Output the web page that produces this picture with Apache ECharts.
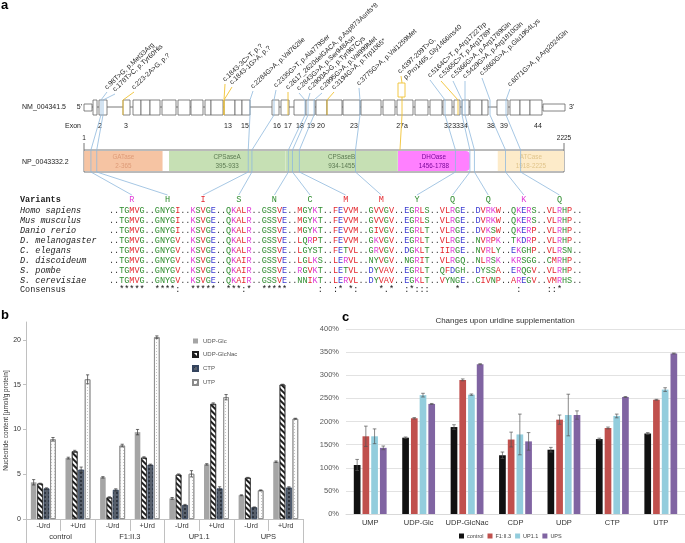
<!DOCTYPE html>
<html><head><meta charset="utf-8">
<script src="https://cdn.jsdelivr.net/npm/echarts@6/dist/echarts.min.js"></script>
<style>html,body{margin:0;padding:0;background:#fff}#main{width:685px;height:543px}</style>
</head><body><div id="main"></div>
<script>
const FONT = '"Liberation Sans", Arial, Helvetica, sans-serif';
const MONO = '"Liberation Mono", "DejaVu Sans Mono", monospace';

// ================= Panel a data =================
const geneUTR = [[84, 92], [543, 565]];
const geneExons = [[93,97],[99,107],[123,130],[133,141],[141,150],[150,160],[162,176],[178,190],[191,203],[205,211],[211,223],[224,235],[235,242],[242,250],[272,279],[281,289],[294,306],[306,315],[316,327],[327,342],[343,360],[361,381],[383,395],[397,413],[415,428],[430,442],[443,452],[454,460],[462,469],[470,482],[482,488],[497,508],[510,520],[520,530],[530,542]];
const altExon = [[398, 405]];
const exonNames = ["2","3","13","15","16","17","18","19","20","23","27a","32","3334","38","39","44"];
const exonNamePos = [100,126,228,245,277,288,300,311,321,354,402,448,460,491,504,538];

const proteinLength = 2225;
const domainNames = ["GATase","CPSaseA","CPSaseB","DHOase","ATCase"];
const domainStart = [2, 395, 934, 1456, 1918];
const domainEnd = [365, 933, 1455, 1788, 2225];

const mutText = ["c.98T>G, p.Met33Arg","c.178T>C, p.Tyr60His","c.223-2A>G, p.?","c.1843-3C>T, p.?","c.1843-1G>A, p.?","c.2284G>A, p.Val762Ile","c.2335G>T, p.Ala779Ser","c.2617_2620delGACA, p.Asp873Asnfs*8","c.2843G>A, p.Ser948Asn","c.2900A>G, p.Tyr967Cys","c.2995G>A, p.Val999Met","c.3194G>A, p.Trp1065*","c.3775G>A, p.Val1259Met","c.4397-209T>G,","c.5164C>T, p.Arg1722Trp","c.5365C>T, p.Arg1789*","c.5366G>A, p.Arg1789Gln","c.5429G>A, p.Arg1810Gln","c.5860G>A, p.Glu1954Lys","c.6071G>A, p.Arg2024Gln"];
const mutText2 = ["","","","","","","","","","","","","","p.Pro1465_Gly1466ins40","","","","","",""];
const mutKind = ["b","b","y","y","y","b","b","y","b","b","b","y","b","a","b","y","b","b","b","b"];
const mutExonPos = [101,103,123,224,224,250,274,288,305,308,314,327,360,402,445,458,462,465,490,506];
const mutAA = [33,60,0,0,0,762,779,0,948,967,999,0,1259,1465,1722,0,1789,1810,1954,2024];
const mutBlock = [0,1,-1,-1,-1,2,3,-1,4,5,6,-1,7,-1,8,-1,9,10,11,12];

const species = ["Homo sapiens","Mus musculus","Danio rerio","D. melanogaster","C. elegans","D. discoideum","S. pombe","S. cerevisiae"];
const alnHomo = ["TGMVG","GNYGI","KSVGE","QKALR","GSSVE","MGYKT","FEVVM","GVVGV","EGRLS","VLRGE","DVRKW","QKERS","VLRHP"];
const alnMus  = ["TGMVG","GNYGI","KSVGE","QKALR","GSSVE","MGYKT","FEVVM","GVVGV","EGRLS","VLRGE","DVRKW","QKERS","VLRHP"];
const alnDanio= ["TGMVG","GNYGI","KSVGE","QKALR","GSSVE","MGYKT","FEVVM","GIVGV","EGRLT","VLRGE","DVKSW","QKERP","VLRHP"];
const alnDmel = ["TGMVG","GNYGV","KSVGE","QKALR","GSSVE","LQRPT","FEVVM","GKVGV","EGRLT","VLRGE","NVRPK","TKDRP","VLRHP"];
const alnCele = ["TGMVG","GNYGV","KSVGE","QKALR","GSSVE","LGYST","FETVL","GRVGV","DGKLT","IIRGE","NVRLY","EKGHP","VLRSN"];
const alnDdis = ["TGMVG","GNYGV","KSVGE","QKAIR","GSSVE","LGLKS","LERVL","NYVGV","NGRIT","VLRGQ","NLRSK","KRSGG","CMRHP"];
const alnSpom = ["TGMVG","GNYGV","KSVGE","QKAIR","GSSVE","RGVKT","LETVL","DYVAV","EGRLT","QFDGH","DYSSA","ERQGV","VLRHP"];
const alnScer = ["TGMVG","GNYGV","KSVGE","QKAIR","GSSVE","NNIKT","LERVL","DYVAV","EGKLT","VYNGE","CIVNP","AREGV","VMRHS"];
const alignment = [alnHomo, alnMus, alnDanio, alnDmel, alnCele, alnDdis, alnSpom, alnScer];
const variantResidues = ["R","H","I","S","N","C","M","M","Y","Q","Q","K","Q"];
const consensusBlocks = ["*****","****:","*****","***:*","*****","    :",":* *:","  *.*",":*:::","   * ","     "," :   ","::*  "];

// ================= Panel b data =================
const bGroups = ["control","F1:II.3","UP1.1","UPS"];
const bConds = ["-Urd","+Urd","-Urd","+Urd","-Urd","+Urd","-Urd","+Urd"];
const bSeriesNames = ["UDP-Glc","UDP-GlcNac","CTP","UTP"];
const udpGlc    = [4.1, 6.8, 4.65, 9.7, 2.3, 6.1, 2.65, 6.4];
const udpGlcNac = [3.95, 7.55, 2.4, 6.85, 4.95, 12.85, 4.6, 15.0];
const ctp       = [3.4, 5.5, 3.25, 6.05, 1.55, 3.4, 1.3, 3.5];
const utp       = [8.9, 15.6, 8.2, 20.3, 5.05, 13.6, 3.2, 11.2];
const udpGlcErr    = [0.3, 0.1, 0.08, 0.3, 0.1, 0.08, 0.05, 0.08];
const udpGlcNacErr = [0.05, 0.12, 0.08, 0.1, 0.08, 0.12, 0.05, 0.05];
const ctpErr       = [0.08, 0.3, 0.12, 0.08, 0.08, 0.2, 0.05, 0.1];
const utpErr       = [0.2, 0.5, 0.15, 0.15, 0.35, 0.3, 0.05, 0.05];

// ================= Panel c data =================
const cCats = ["UMP","UDP-Glc","UDP-GlcNac","CDP","UDP","CTP","UTP"];
const cSeriesNames = ["control","F1:II.3","UP1.1","UPS"];
const cControl = [106, 165, 188, 127, 139, 162, 174];
const cF1      = [168, 207, 290, 161, 204, 186, 247];
const cUP11    = [168, 257, 258, 172, 214, 212, 269];
const cUPS     = [143, 238, 324, 157, 214, 253, 347];
const cControlErr = [12, 1.5, 5, 7, 5, 2, 2];
const cF1Err      = [22, 1.5, 2, 16, 10, 2, 1];
const cUP11Err    = [16, 4, 1.5, 44, 45, 4, 4];
const cUPSErr     = [4, 1, 1, 19, 9, 1, 1];
const cTicks = [0,50,100,150,200,250,300,350,400];

// ================= layout / style =================
const LABEL_X = [108,116,135,226,233,254,277,289,300,311,323,335,360,401,431,442,454,466,483,511];
const LABEL_Y = [91,93,91,83,86,90,89,91,92,92,92,91,87,75,79,80,80,80,77,88];
const PROT_LEFT = 84, PROT_W = 480, PROT_TOP = 150, PROT_H = 22;
const SEQ_X0 = 109, CHAR_W = 5.09;
const ROW_Y0 = 211, ROW_DY = 9.9;
const BLUE = '#8fb9dd', YELLOW = '#f1c232';
const domainFill = ['#f6c4a3','#c6e0b4','#c6e0b4','#ff80ff','#fdebc9'];
const domainText = ['#de9b78','#5c7a52','#5c7a52','#7a089a','#e0c48a'];

function protX(aa){ return PROT_LEFT + (aa - 1) / (proteinLength - 1) * PROT_W; }
function colX(idx){ return SEQ_X0 + (idx + 0.5) * CHAR_W; }
function resColor(c){
  if ('AVFPMILW'.indexOf(c) >= 0) return '#e3262d';
  if ('DE'.indexOf(c) >= 0) return '#3a3ad0';
  if ('RK'.indexOf(c) >= 0) return '#e03cd6';
  if ('STYHCNGQ'.indexOf(c) >= 0) return '#2e8c2e';
  return '#333';
}
function seqString(blocks){ return '..' + blocks.join('..') + '..'; }

const chart = echarts.init(document.getElementById('main'));

function txt(x, y, text, o){
  o = o || {};
  return {type:'text', x:x, y:y, rotation:o.rot||0, style:{text:text, x:0, y:0,
    fill:o.color||'#222', fontSize:o.size||7, fontFamily:o.family||FONT,
    fontStyle:o.style||'normal', fontWeight:o.weight||'normal',
    align:o.align||'left', verticalAlign:o.valign||'middle'}};
}

const pageAxis = {xAxisIndex:0, yAxisIndex:0};
const series = [];

series.push(Object.assign({type:'custom', z:2, data:[[geneUTR[0][0], geneUTR[1][1]]],
  renderItem:function(p, api){
    const a = api.coord([api.value(0), 107]), b = api.coord([api.value(1), 107]);
    const ch = [{type:'line', shape:{x1:a[0],y1:a[1],x2:b[0],y2:b[1]}, style:{stroke:'#555', lineWidth:0.8}}];
    const n = api.coord([22,107]); ch.push(txt(n[0], n[1], 'NM_004341.5', {size:7}));
    const f = api.coord([82,107]); ch.push(txt(f[0], f[1], "5'", {size:7, align:'right'}));
    const t = api.coord([569,107]); ch.push(txt(t[0], t[1], "3'", {size:7}));
    const e = api.coord([65,126]); ch.push(txt(e[0], e[1], 'Exon', {size:7}));
    exonNames.forEach(function(nm, i){ const q = api.coord([exonNamePos[i],126]); ch.push(txt(q[0], q[1], nm, {size:7, align:'center'})); });
    const np = api.coord([22,162]); ch.push(txt(np[0], np[1], 'NP_0043332.2', {size:7}));
    return {type:'group', children:ch};
  }}, pageAxis));

series.push(Object.assign({type:'custom', z:3, data:geneUTR, renderItem:function(p, api){
  const a = api.coord([api.value(0),104]), b = api.coord([api.value(1),111]);
  return {type:'rect', shape:{x:a[0],y:a[1],width:b[0]-a[0],height:b[1]-a[1]}, style:{fill:'#fff', stroke:'#666', lineWidth:0.8}};
}}, pageAxis));
series.push(Object.assign({type:'custom', z:3, data:geneExons, renderItem:function(p, api){
  const a = api.coord([api.value(0),100]), b = api.coord([api.value(1),115]);
  return {type:'rect', shape:{x:a[0],y:a[1],width:b[0]-a[0],height:b[1]-a[1]}, style:{fill:'#fff', stroke:'#666', lineWidth:0.8}};
}}, pageAxis));
series.push(Object.assign({type:'custom', z:3, data:altExon, renderItem:function(p, api){
  const a = api.coord([api.value(0),83]), b = api.coord([api.value(1),97]);
  return {type:'rect', shape:{x:a[0],y:a[1],width:b[0]-a[0],height:b[1]-a[1]}, style:{fill:'#fff', stroke:YELLOW, lineWidth:0.9}};
}}, pageAxis));

series.push({type:'custom', xAxisIndex:1, yAxisIndex:1, z:2, data:[[1, proteinLength]], renderItem:function(p, api){
  const a = api.coord([api.value(0),1]), b = api.coord([api.value(1),0]);
  return {type:'group', children:[
    {type:'rect', shape:{x:a[0],y:a[1],width:b[0]-a[0],height:b[1]-a[1]}, style:{fill:'#fff', stroke:'#777', lineWidth:1}},
    {type:'line', shape:{x1:a[0],y1:a[1]-7,x2:a[0],y2:a[1]}, style:{stroke:'#777', lineWidth:1}},
    {type:'line', shape:{x1:b[0],y1:a[1]-7,x2:b[0],y2:a[1]}, style:{stroke:'#777', lineWidth:1}},
    txt(a[0], a[1]-8, String(api.value(0)), {size:6.5, align:'center', valign:'bottom'}),
    txt(b[0], a[1]-8, String(api.value(1)), {size:6.5, align:'center', valign:'bottom'})
  ]};
}});
series.push({type:'custom', xAxisIndex:1, yAxisIndex:1, z:3,
  data:domainStart.map(function(s,i){ return [s, domainEnd[i]]; }),
  renderItem:function(p, api){
    const i = p.dataIndex;
    const a = api.coord([api.value(0),0.96]), b = api.coord([api.value(1),0.04]);
    const r = i === 3 ? [0,4,4,0] : 0;
    const cx = (a[0]+b[0])/2;
    return {type:'group', children:[
      {type:'rect', shape:{x:a[0],y:a[1],width:b[0]-a[0],height:b[1]-a[1], r:r}, style:{fill:domainFill[i]}},
      txt(cx, a[1]+6, domainNames[i], {size:6.3, align:'center', color:domainText[i]}),
      txt(cx, a[1]+15, domainStart[i] + '-' + domainEnd[i], {size:6.3, align:'center', color:domainText[i]})
    ]};
  }});

series.push(Object.assign({type:'custom', z:6, data:mutText.map(function(t,i){ return [i]; }),
  renderItem:function(p, api){
    const i = p.dataIndex, k = mutKind[i], ex = mutExonPos[i];
    const C = function(x,y){ return api.coord([x,y]); };
    const ch = [];
    if (k === 'a') {
      ch.push({type:'polyline', shape:{points:[C(LABEL_X[i], LABEL_Y[i]+1), C(ex, 83)]}, style:{stroke:YELLOW, lineWidth:0.9, fill:null}});
      ch.push({type:'polyline', shape:{points:[C(ex,97), C(ex,115), C(protX(mutAA[i]), PROT_TOP)]}, style:{stroke:YELLOW, lineWidth:0.9, fill:null}});
    } else if (k === 'y') {
      ch.push({type:'polyline', shape:{points:[C(LABEL_X[i]-1, LABEL_Y[i]+1), C(ex,100), C(ex,115)]}, style:{stroke:YELLOW, lineWidth:0.9, fill:null}});
    } else {
      const px = protX(mutAA[i]);
      const vx = colX(4 + 7*mutBlock[i]);
      ch.push({type:'polyline', shape:{points:[C(LABEL_X[i]-1, LABEL_Y[i]+1), C(ex,100), C(ex,115), C(px,PROT_TOP), C(px,PROT_TOP+PROT_H), C(vx,195)]}, style:{stroke:BLUE, lineWidth:0.8, fill:null}});
    }
    return {type:'group', children:ch};
  }}, pageAxis));

series.push(Object.assign({type:'custom', z:7, data:mutText.map(function(t,i){ return [i]; }),
  renderItem:function(p, api){
    const i = p.dataIndex;
    const rot = 43 * Math.PI / 180;
    const a = api.coord([LABEL_X[i], LABEL_Y[i]]);
    const ch = [txt(a[0], a[1], mutText[i], {size:6.8, rot:rot, valign:'bottom', color:'#222'})];
    if (mutText2[i]) ch.push(txt(a[0]+6, a[1]+6, mutText2[i], {size:6.8, rot:rot, valign:'bottom', color:'#222'}));
    return {type:'group', children:ch};
  }}, pageAxis));

series.push(Object.assign({type:'custom', z:4, data:[0,1,2,3,4,5,6,7,8,9].map(function(r){ return [r]; }),
  renderItem:function(p, api){
    const r = p.dataIndex;
    const ch = [];
    let y, name, str, colorFn, nameOpt = {size:8.5, family:MONO, color:'#222'};
    if (r === 0) {
      y = 200; nameOpt.weight = 'bold';
      const n = api.coord([20, y]); ch.push(txt(n[0], n[1], 'Variants', nameOpt));
      variantResidues.forEach(function(c, k){
        const q = api.coord([colX(4+7*k), y]);
        ch.push(txt(q[0], q[1], c, {size:8.5, family:MONO, align:'center', color:resColor(c)}));
      });
      return {type:'group', children:ch};
    }
    if (r === 9) {
      y = ROW_Y0 + 8*ROW_DY; name = 'Consensus'; str = '  ' + consensusBlocks.join('  ') + '  ';
      colorFn = function(){ return '#111'; };
    } else {
      y = ROW_Y0 + (r-1)*ROW_DY; name = species[r-1]; str = seqString(alignment[r-1]);
      nameOpt.style = 'italic';
      colorFn = resColor;
    }
    const n = api.coord([20, y]); ch.push(txt(n[0], n[1], name, nameOpt));
    for (let i = 0; i < str.length; i++) {
      const c = str[i]; if (c === ' ') continue;
      const q = api.coord([colX(i), y]);
      ch.push(txt(q[0], q[1], c, {size:8.5, family:MONO, align:'center', color:colorFn(c)}));
    }
    return {type:'group', children:ch};
  }}, pageAxis));

// ================= Panel b series =================
const B_BW = 5.6, B_GAP = 0.15, B_PITCH = B_BW * (1 + B_GAP);
const bValues = [udpGlc, udpGlcNac, ctp, utp];
const bErrs = [udpGlcErr, udpGlcNacErr, ctpErr, utpErr];
const bStyles = [
  {color:'#a5a5a5'},
  {color:'#ffffff', borderColor:'#1e1e1e', borderWidth:0.6, decal:{symbol:'rect', symbolSize:1, dashArrayX:[1,0], dashArrayY:[1.4,1.4], rotation:Math.PI/4, color:'#1e1e1e'}},
  {color:'#58606c', borderColor:'#34445e', borderWidth:0.6, decal:{symbol:'rect', symbolSize:1, dashArrayX:[1.2,1.2], dashArrayY:[1.2,1.2], color:'#2f353e'}},
  {color:'#fdfdfd', borderColor:'#8a8a8a', borderWidth:0.8, decal:{symbol:'rect', symbolSize:1, dashArrayX:[0.8,1.6], dashArrayY:[0.8,1.6], color:'#c4c4c4'}}
];
bSeriesNames.forEach(function(nm, s){
  series.push({name:nm, type:'bar', xAxisIndex:2, yAxisIndex:2, data:bValues[s], barWidth:B_BW, barGap:(B_GAP*100)+'%', itemStyle:bStyles[s], z:2});
});
function errorRender(pitch, cap, color, lw){
  return function(p, api){
    const i = api.value(0), v = api.value(1), e = api.value(2), s = api.value(3);
    const off = (s - 1.5) * pitch;
    const hi = api.coord([i, v + e]), lo = api.coord([i, v - e]);
    const x = hi[0] + off;
    const st = {stroke:color, lineWidth:lw};
    return {type:'group', children:[
      {type:'line', shape:{x1:x,y1:hi[1],x2:x,y2:lo[1]}, style:st},
      {type:'line', shape:{x1:x-cap,y1:hi[1],x2:x+cap,y2:hi[1]}, style:st},
      {type:'line', shape:{x1:x-cap,y1:lo[1],x2:x+cap,y2:lo[1]}, style:st}
    ]};
  };
}
const bErrData = [];
bValues.forEach(function(arr, s){ arr.forEach(function(v, i){ bErrData.push([i, v, bErrs[s][i], s]); }); });
series.push({type:'custom', xAxisIndex:2, yAxisIndex:2, z:5, data:bErrData, renderItem:errorRender(B_PITCH, 1.6, '#333', 0.7)});

// ================= Panel c series =================
const C_BW = 6.7, C_GAP = 0.3, C_PITCH = C_BW * (1 + C_GAP);
const cValues = [cControl, cF1, cUP11, cUPS];
const cErrs = [cControlErr, cF1Err, cUP11Err, cUPSErr];
const cColors = ['#111111', '#c0504d', '#93cddd', '#8064a2'];
cSeriesNames.forEach(function(nm, s){
  series.push({name:nm, type:'bar', xAxisIndex:4, yAxisIndex:3, data:cValues[s], barWidth:C_BW, barGap:(C_GAP*100)+'%', itemStyle:{color:cColors[s]}, z:2});
});
const cErrData = [];
cValues.forEach(function(arr, s){ arr.forEach(function(v, i){ cErrData.push([i, v, cErrs[s][i], s]); }); });
series.push({type:'custom', xAxisIndex:4, yAxisIndex:3, z:5, data:cErrData, renderItem:errorRender(C_PITCH, 1.8, '#555', 0.7)});

const option = {
  animation:false,
  backgroundColor:'#fff',
  textStyle:{fontFamily:FONT},
  graphic:[
    {type:'text', left:1, top:-1, style:{text:'a', fontSize:13, fontWeight:'bold', fontFamily:FONT, fill:'#000'}},
    {type:'text', left:1, top:309, style:{text:'b', fontSize:13, fontWeight:'bold', fontFamily:FONT, fill:'#000'}},
    {type:'text', left:342, top:311, style:{text:'c', fontSize:13, fontWeight:'bold', fontFamily:FONT, fill:'#000'}},
    {type:'text', x:505, y:321, style:{text:'Changes upon uridine supplementation', fontSize:8, fontFamily:FONT, fill:'#333', align:'center', verticalAlign:'middle'}}
  ],
  legend:[
    {data:bSeriesNames, orient:'vertical', left:192, top:338, padding:0, itemWidth:5, itemHeight:5, itemGap:7, icon:'rect',
     textStyle:{fontSize:6, color:'#555', fontFamily:FONT}},
    {data:cSeriesNames, orient:'horizontal', left:459, top:533, padding:0, itemWidth:5, itemHeight:5, itemGap:4, icon:'rect',
     textStyle:{fontSize:5.5, color:'#444', fontFamily:FONT, padding:[0,0,0,-2]}}
  ],
  grid:[
    {left:0, top:0, width:685, height:310},
    {left:PROT_LEFT, top:PROT_TOP, width:PROT_W, height:PROT_H},
    {left:26, top:322, width:277, height:197},
    {left:346, top:329, width:340, height:185}
  ],
  xAxis:[
    {gridIndex:0, type:'value', min:0, max:685, show:false},
    {gridIndex:1, type:'value', min:1, max:proteinLength, show:false},
    {gridIndex:2, type:'category', data:bConds, position:'bottom',
     axisLine:{lineStyle:{color:'#c0c0c0', width:1}},
     axisTick:{show:true, length:12, interval:0, lineStyle:{color:'#c0c0c0'}},
     axisLabel:{interval:0, fontSize:7, color:'#333', margin:4}},
    {gridIndex:2, type:'category', data:bGroups, position:'bottom',
     axisLine:{show:false},
     axisTick:{show:true, length:24, interval:0, lineStyle:{color:'#c0c0c0'}},
     axisLabel:{interval:0, fontSize:7.5, color:'#333', margin:14}},
    {gridIndex:3, type:'category', data:cCats,
     axisLine:{lineStyle:{color:'#d9d9d9'}}, axisTick:{show:false},
     axisLabel:{interval:0, fontSize:7.5, color:'#333', margin:5}}
  ],
  yAxis:[
    {gridIndex:0, type:'value', min:0, max:310, inverse:true, show:false},
    {gridIndex:1, type:'value', min:0, max:1, show:false},
    {gridIndex:2, type:'value', min:0, max:22, interval:5,
     axisLine:{show:true, lineStyle:{color:'#c0c0c0'}},
     axisTick:{show:true, length:3, lineStyle:{color:'#c0c0c0'}},
     splitLine:{show:false},
     axisLabel:{fontSize:7, color:'#333', margin:5, showMaxLabel:false},
     name:'Nucleotide content [\u00b5mol/g protein]', nameLocation:'middle', nameGap:15, nameRotate:90,
     nameTextStyle:{fontSize:6.5, color:'#333'}},
    {gridIndex:3, type:'value', min:cTicks[0], max:cTicks[cTicks.length-1], interval:cTicks[1]-cTicks[0],
     axisLine:{show:false}, axisTick:{show:false},
     splitLine:{lineStyle:{color:'#e2e2e2', width:1}},
     axisLabel:{formatter:'{value}%', fontSize:7.5, color:'#595959', margin:7}}
  ],
  series:series
};
chart.setOption(option);
</script></body></html>
